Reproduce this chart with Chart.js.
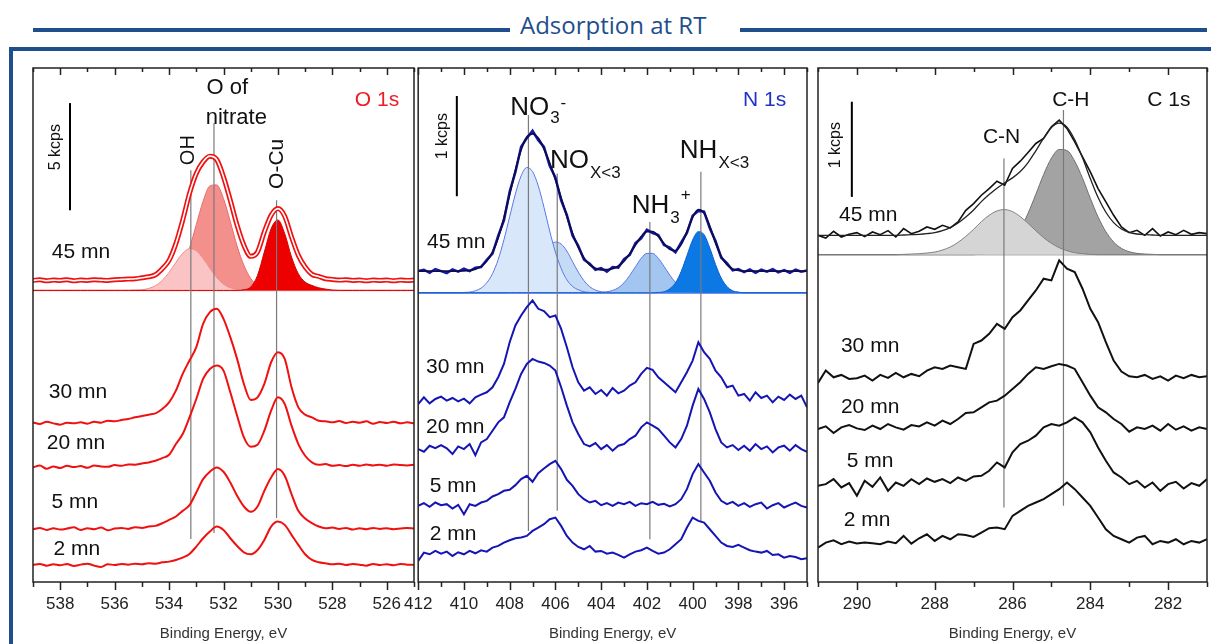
<!DOCTYPE html>
<html>
<head>
<meta charset="utf-8">
<script src="https://cdn.jsdelivr.net/npm/chart.js@4.4.1/dist/chart.umd.min.js"></script>
<style>
  body { margin: 0; width: 1211px; height: 644px; overflow: hidden; position: relative; background: #fff; }
  canvas { position: absolute; top: 0; }
  .bar { position: absolute; background: #1f4e8c; height: 4px; top: 28px; }
  #title { position: absolute; left: 520px; top: 10px; font: 24px "Open Sans", sans-serif; color: #1f4e8c; line-height: 30px; }
  #frame { position: absolute; left: 9px; top: 47px; width: 1210px; height: 600px; border-top: 4px solid #1f4e8c; border-left: 4px solid #1f4e8c; }
</style>
</head>
<body>
<div class="bar" style="left:33px;width:477px"></div>
<div id="title">Adsorption at RT</div>
<div class="bar" style="left:740px;width:467px"></div>
<div id="frame"></div>
<canvas id="o1s" width="410" height="644" style="left:20px"></canvas>
<canvas id="n1s" width="420" height="644" style="left:400px"></canvas>
<canvas id="c1s" width="403" height="644" style="left:808px"></canvas>
<script>
// intensities are in arbitrary units (1 unit = 1/3 px of the original plot), relative to each spectrum's baseline
// spectra are stacked with the offsets below

// ---------- O 1s ----------
const o1sE = [539, 538.75, 538.5, 538.25, 538, 537.75, 537.5, 537.25, 537, 536.75,
  536.5, 536.25, 536, 535.75, 535.5, 535.25, 535, 534.75, 534.5, 534.25,
  534, 533.75, 533.5, 533.25, 533, 532.75, 532.5, 532.25, 532, 531.75,
  531.5, 531.25, 531, 530.75, 530.5, 530.25, 530, 529.75, 529.5, 529.25,
  529, 528.75, 528.5, 528.25, 528, 527.75, 527.5, 527.25, 527, 526.75,
  526.5, 526.25, 526, 525.75, 525.5, 525.25, 525];
const o1s45 = [0,2,-1,1,0,2,-1,1,0,2, 1,0,2,3,4,5,8,11,17,35, 60,110,180,260,320,355,372,362,310,240,
  165,105,72,85,145,195,215,192,130,75, 40,18,12,5,3,1,2,0,1,-1, 1,0,1,-1,1,0,1];
const o1s30 = [0,-5,2,-3,-7,-1,-3,0,-4,2, -1,5,3,7,10,15,19,23,27,40, 60,95,145,185,225,295,330,340,310,255,
  190,115,67,75,115,180,210,190,105,45, 23,15,5,3,0,4,-2,2,-1,3, -4,1,-2,2,-3,0,-3];
const o1s20 = [0,6,-4,3,-2,5,1,4,-1,6, 3,2,7,5,9,8,12,15,20,28, 38,70,100,150,205,265,295,305,290,225,
  155,90,62,68,110,170,210,190,125,70, 35,15,8,10,5,7,4,8,5,9, 6,8,5,9,7,6,8];
const o1s5 = [0,4,-2,3,-1,2,6,-2,3,0, 5,-3,2,4,1,6,4,8,10,18, 28,38,55,72,110,150,172,185,172,140,
  100,68,52,68,115,155,180,160,105,55, 32,18,8,3,5,1,4,-1,3,0, 4,1,3,0,2,4,2];
const o1s2 = [0,3,-2,2,-1,3,-3,1,4,-2, -6,2,0,3,1,4,2,5,4,8, 10,15,22,33,55,80,100,115,105,80,
  57,38,32,45,75,115,130,120,90,60, 32,15,8,5,2,4,0,3,1,-2, 3,0,2,-1,3,1,0];
const o1sOffsets = [903, 478, 343, 158, 51];
const o1sCompBase = 873;
const o1sOH = [0,0,0,0,0,0,0,0,0,0, 0,0,0,0,0,1,2,6,14,30, 54,84,111,125,119,96,66,39,19,8,
  3,1,0,0,0,0,0,0,0,0, 0,0,0,0,0,0,0,0,0,0, 0,0,0,0,0,0,0];
const o1sNitrate = [0,0,0,0,0,0,0,0,0,0, 0,0,0,0,0,0,0,1,2,5, 13,32,69,126,197,267,313,316,275,206,
  133,75,36,15,5,2,1,0,0,0, 0,0,0,0,0,0,0,0,0,0, 0,0,0,0,0,0,0];
const o1sOCu = [0,0,0,0,0,0,0,0,0,0, 0,0,0,0,0,0,0,0,0,0, 0,0,0,0,0,0,0,0,0,0,
  0,2,10,45,115,185,211,170,100,50, 25,15,8,4,1,0,0,0,0,0, 0,0,0,0,0,0,0];
const o1sPeaks = [533.2, 532.35, 530.05];

// ---------- N 1s ----------
const n1sE = [412, 411.75, 411.5, 411.25, 411, 410.75, 410.5, 410.25, 410, 409.75,
  409.5, 409.25, 409, 408.75, 408.5, 408.25, 408, 407.75, 407.5, 407.25,
  407, 406.75, 406.5, 406.25, 406, 405.75, 405.5, 405.25, 405, 404.75,
  404.5, 404.25, 404, 403.75, 403.5, 403.25, 403, 402.75, 402.5, 402.25,
  402, 401.75, 401.5, 401.25, 401, 400.75, 400.5, 400.25, 400, 399.75,
  399.5, 399.25, 399, 398.75, 398.5, 398.25, 398, 397.75, 397.5, 397.25,
  397, 396.75, 396.5, 396.25, 396, 395.75, 395.5, 395.25, 395];
const n1s45 = [0,4,-5,6,0,-6,5,-2,7,0, 10,12,34,52,106,152,238,296,372,398, 420,392,372,315,280,212,168,106,76,34,
  22,4,9,-2,12,10,36,48,84,98, 124,114,108,78,70,56,86,114,166,180, 178,128,90,40,24,2,6,-3,5,-5,
  4,-2,6,-4,3,-5,4,-2,2];
const n1s30 = [-10,10,-8,5,12,0,8,-2,6,-8, 10,18,25,40,70,110,175,225,255,280, 300,275,268,250,255,215,160,100,55,30,
  40,20,32,15,38,22,30,45,55,80, 98,92,70,55,40,25,55,85,120,175, 145,125,90,70,40,45,15,20,0,25,
  8,15,-5,12,2,18,5,15,-20];
const n1s20 = [0,-8,10,3,12,2,-15,8,0,15, -18,20,30,55,80,95,140,180,225,255, 270,262,258,250,235,185,130,80,45,15,
  8,18,0,12,-5,10,15,30,40,65, 80,70,60,40,20,5,30,70,130,180, 150,110,60,20,5,12,-3,10,-5,15,
  0,8,-10,5,10,-5,12,0,-8];
const n1s5 = [0,8,-3,10,2,5,-8,3,-25,5, 0,10,15,28,35,45,48,62,80,90, 72,98,112,125,135,110,78,60,35,20,
  10,15,2,8,0,10,5,12,0,8, 5,12,3,6,-2,5,20,50,95,125, 100,75,40,15,5,12,0,8,-3,5,
  10,-8,2,8,-5,3,10,0,-5];
const n1s2 = [-20,5,0,10,2,8,-5,6,0,10, 3,12,8,20,25,35,42,48,50,55, 70,80,90,105,110,85,55,35,22,15,
  25,8,10,2,5,-2,-10,0,8,12, 20,10,2,5,15,30,45,80,110,100, 95,75,55,35,25,22,28,20,12,8,
  5,10,-2,0,-10,-5,-8,-15,-12];
const n1sOffsets = [931, 543, 398, 228, 83];
const n1sCompBase = 866;
const n1sNO3 = [0,0,0,0,0,0,0,0,1,2, 6,14,30,57,100,159,228,296,350,375, 363,320,256,185,122,73,39,19,9,3,
  1,0,0,0,0,0,0,0,0,0, 0,0,0,0,0,0,0,0,0,0, 0,0,0,0,0,0,0,0,0,0, 0,0,0,0,0,0,0,0,0];
const n1sNOx = [0,0,0,0,0,0,0,0,0,0, 0,0,0,0,0,0,2,5,13,26, 48,78,110,138,152,146,125,93,62,36,
  18,8,3,1,0,0,0,0,0,0, 0,0,0,0,0,0,0,0,0,0, 0,0,0,0,0,0,0,0,0,0, 0,0,0,0,0,0,0,0,0];
const n1sNH3 = [0,0,0,0,0,0,0,0,0,0, 0,0,0,0,0,0,0,0,0,0, 0,0,0,0,0,0,0,0,0,0,
  0,0,1,3,7,15,30,52,78,103, 118,118,103,79,53,31,16,7,3,1, 0,0,0,0,0,0,0,0,0,0, 0,0,0,0,0,0,0,0,0];
const n1sNHx = [0,0,0,0,0,0,0,0,0,0, 0,0,0,0,0,0,0,0,0,0, 0,0,0,0,0,0,0,0,0,0,
  0,0,0,0,0,0,0,0,0,0, 0,0,1,3,12,30,64,111,158,183, 174,134,85,44,19,6,2,0,0,0, 0,0,0,0,0,0,0,0,0];
const n1sPeaks = [407.18, 405.92, 401.87, 399.64];

// ---------- C 1s ----------
const c1sE = [291, 290.8, 290.6, 290.4, 290.2, 290, 289.8, 289.6, 289.4, 289.2,
  289, 288.8, 288.6, 288.4, 288.2, 288, 287.8, 287.6, 287.4, 287.2,
  287, 286.8, 286.6, 286.4, 286.2, 286, 285.8, 285.6, 285.4, 285.2,
  285, 284.8, 284.6, 284.4, 284.2, 284, 283.8, 283.6, 283.4, 283.2,
  283, 282.8, 282.6, 282.4, 282.2, 282, 281.8, 281.6, 281.4, 281.2, 281];
const c1s45 = [0,-8,12,-5,3,8,-4,10,2,14, -5,20,5,12,25,18,30,22,40,75, 95,120,140,162,150,200,222,248,275,290,
  325,345,320,280,235,190,140,100,60,25, 8,15,0,20,-2,10,2,15,3,8, 5];
const c1s30 = [-12,25,5,12,0,2,10,-5,12,3, 18,5,15,8,25,35,30,40,35,30, 105,115,135,165,150,185,205,235,265,300,
  295,355,330,320,270,210,170,110,55,22, 8,5,12,0,8,-5,10,2,12,5, 8];
const c1s20 = [0,8,-12,5,12,2,-3,10,0,15, 5,-2,12,8,20,10,25,15,30,48, 50,65,80,85,100,120,140,165,185,180,
  188,195,190,180,140,100,65,50,30,15, -8,5,0,10,-5,15,-2,8,-5,5, 0];
const c1s5 = [0,5,20,-5,8,-30,15,-3,25,-15, 10,0,20,5,22,12,20,8,25,15, 28,30,45,70,55,100,125,135,150,175,
  185,180,190,205,190,160,115,75,40,25, 5,15,-5,10,-15,5,12,-8,8,0, 20];
const c1s2 = [-10,5,12,0,8,2,5,3,0,8, 3,25,2,18,30,10,25,15,30,28, 22,35,48,50,45,85,100,115,125,135,
  150,165,185,165,140,115,80,45,25,15, 5,20,25,0,10,5,15,0,10,5, 15];
const c1sOffsets = [1038, 608, 458, 288, 113];
const c1sCompBase = 980;
const c1sCN = [0,0,0,0,0,0,0,0,0,0, 0,1,2,3,5,8,14,23,37,55, 76,99,118,131,135,129,114,94,72,51,
  34,21,12,6,3,1,0,0,0,0, 0,0,0,0,0,0,0,0,0,0, 0];
const c1sCH = [0,0,0,0,0,0,0,0,0,0, 0,0,0,0,0,0,0,0,0,0, 0,2,4,10,22,43,77,124,181,240,
  289,315,312,280,229,169,113,69,38,19, 9,4,2,1,0,0,0,0,0,0, 0];
const c1sPeaks = [286.22, 284.69];

const mins = ['45 mn', '30 mn', '20 mn', '5 mn', '2 mn'];

Chart.defaults.font.family = '"Liberation Sans", Arial, sans-serif';

const pts = (E, vals, off) => E.map((e, i) => ({x: e, y: off + vals[i]}));
const vline = (e, y0, y1, color, w, order) => ({
  data: [{x: e, y: y0}, {x: e, y: y1}], borderColor: color, borderWidth: w, pointRadius: 0, order: order
});
const comp = (E, vals, base, fillC, lineC, order) => ({
  data: pts(E, vals, base), borderColor: lineC, borderWidth: 1, backgroundColor: fillC,
  fill: {value: base}, cubicInterpolationMode: 'monotone', pointRadius: 0, order: order
});

// frame + tick marks (bottom outward, top inward, majors every 2 eV)
const framePlugin = {
  id: 'frame',
  afterDraw(chart) {
    const {ctx, chartArea: a, scales: {x}} = chart;
    ctx.save();
    ctx.strokeStyle = '#222';
    ctx.lineWidth = 1.5;
    ctx.strokeRect(a.left, a.top, a.right - a.left, a.bottom - a.top);
    x.ticks.forEach(t => {
      const px = Math.round(x.getPixelForValue(t.value)) + 0.5;
      const major = t.value % 2 === 0;
      ctx.beginPath();
      ctx.moveTo(px, a.bottom);
      ctx.lineTo(px, a.bottom + (major ? 8 : 5));
      ctx.moveTo(px, a.top);
      ctx.lineTo(px, a.top + (major ? 7 : 4));
      ctx.stroke();
    });
    ctx.restore();
  }
};

function textPlugin(items) {
  return {
    id: 'texts',
    afterDatasetsDraw(chart) {
      const {ctx, scales: {x, y}} = chart;
      ctx.save();
      items.forEach(it => {
        const px = x.getPixelForValue(it.x), py = y.getPixelForValue(it.y);
        ctx.fillStyle = it.color || '#111';
        if (it.parts) {
          let cx = px;
          ctx.textAlign = 'left';
          ctx.textBaseline = 'alphabetic';
          it.parts.forEach(p => {
            ctx.font = p.size + 'px "Liberation Sans", Arial, sans-serif';
            ctx.fillText(p.t, cx, py + (p.dy || 0));
            cx += ctx.measureText(p.t).width + 1;
          });
        } else {
          ctx.save();
          ctx.translate(px, py);
          if (it.rot) ctx.rotate(-Math.PI / 2);
          ctx.font = (it.size || 21) + 'px "Liberation Sans", Arial, sans-serif';
          ctx.textAlign = 'center';
          ctx.textBaseline = 'middle';
          ctx.fillText(it.t, 0, 0);
          ctx.restore();
        }
      });
      ctx.restore();
    }
  };
}

function makePanel(id, o) {
  return new Chart(document.getElementById(id), {
    type: 'line',
    data: {datasets: o.datasets},
    options: {
      responsive: false,
      animation: false,
      devicePixelRatio: 1,
      layout: {padding: {left: o.padL, right: o.padR, top: 68, bottom: 1.6}},
      plugins: {legend: {display: false}, tooltip: {enabled: false}},
      elements: {point: {radius: 0}, line: {tension: 0}},
      scales: {
        x: {
          type: 'linear', reverse: true, min: o.min, max: o.max,
          ticks: {
            stepSize: 1, autoSkip: false, maxRotation: 0, padding: 4, color: '#222',
            font: {size: 17},
            callback: v => (v % 2 === 0 ? String(v) : '')
          },
          grid: {display: true, color: 'rgba(0,0,0,0)', drawOnChartArea: false, drawTicks: true, tickLength: 8},
          border: {display: false},
          title: {display: true, text: 'Binding Energy, eV', color: '#333', font: {size: 15}, padding: {top: 6, bottom: 0}}
        },
        y: {display: false, min: 0, max: 1539}
      }
    },
    plugins: [framePlugin, textPlugin(o.texts)]
  });
}

// ---------- O 1s panel ----------
const o1sSets = [];
const o1sTraces = [o1s45, o1s30, o1s20, o1s5, o1s2];
o1sTraces.forEach((s, k) => {
  o1sSets.push({data: pts(o1sE, s, o1sOffsets[k]), borderColor: '#f01010', borderWidth: k === 0 ? 5 : 2,
    cubicInterpolationMode: 'monotone', order: 1});
});
o1sSets.push({data: pts(o1sE, o1s45, o1sOffsets[0]), borderColor: '#ffffff', borderWidth: 1.6,
  cubicInterpolationMode: 'monotone', order: 0});
o1sPeaks.forEach((e, k) => {
  const ext = [[129, 1233], [147, 1374], [192, 1143]][k];
  o1sSets.push(vline(e, ext[0], ext[1], '#7a7a7a', 1.2, 2));
});
o1sSets.push(vline(537.64, 1113, 1434, '#000', 2, 2));
o1sSets.push(comp(o1sE, o1sOCu, o1sCompBase, '#ec0000', '#d40000', 3));
o1sSets.push(comp(o1sE, o1sOH, o1sCompBase, '#fac4c4', '#f28b8b', 4));
o1sSets.push(comp(o1sE, o1sNitrate, o1sCompBase, '#f4908c', '#e86a6a', 5));
o1sSets.push({data: [{x: 539, y: o1sCompBase}, {x: 525, y: o1sCompBase}], borderColor: '#f5a3a3', borderWidth: 1.5, order: 6});

const o1sTexts = [
  {t: 'O of', x: 531.86, y: 1479, size: 22},
  {t: 'nitrate', x: 531.53, y: 1389, size: 22},
  {t: 'OH', x: 533.27, y: 1293, size: 20, rot: true},
  {t: 'O-Cu', x: 530.01, y: 1252, size: 21, rot: true},
  {t: 'O 1s', x: 526.36, y: 1443, size: 21, color: '#ee1c24'},
  {t: '5 kcps', x: 538.18, y: 1302, size: 16, rot: true},
  {t: mins[0], x: 537.24, y: 987},
  {t: mins[1], x: 537.35, y: 568},
  {t: mins[2], x: 537.42, y: 415},
  {t: mins[3], x: 537.46, y: 238},
  {t: mins[4], x: 537.39, y: 98}
];
makePanel('o1s', {datasets: o1sSets, texts: o1sTexts, min: 525, max: 539, padL: 13, padR: 16});

// ---------- N 1s panel ----------
const n1sSets = [];
const n1sTraces = [n1s45, n1s30, n1s20, n1s5, n1s2];
n1sTraces.forEach((s, k) => {
  n1sSets.push({data: pts(n1sE, s, n1sOffsets[k]), borderColor: k === 0 ? '#1818a8' : '#1515b5', borderWidth: k === 0 ? 2.5 : 2, order: 1});
});
const n1sFit = n1sE.map((e, i) => n1sNO3[i] + n1sNOx[i] + n1sNH3[i] + n1sNHx[i]);
n1sSets.push({data: pts(n1sE, n1sFit, n1sOffsets[0]), borderColor: '#0c0c50', borderWidth: 1.8, cubicInterpolationMode: 'monotone', order: 0});
n1sPeaks.forEach((e, k) => {
  const ext = [[153, 1398], [213, 1223], [128, 1078], [183, 1228]][k];
  n1sSets.push(vline(e, ext[0], ext[1], '#7a7a7a', 1.2, 2));
});
n1sSets.push(vline(410.31, 1155, 1455, '#000', 2, 2));
n1sSets.push(comp(n1sE, n1sNHx, n1sCompBase, '#0b78e3', '#0b5fd0', 3));
n1sSets.push(comp(n1sE, n1sNH3, n1sCompBase, '#a3c6f0', '#5a78e6', 4));
n1sSets.push(comp(n1sE, n1sNO3, n1sCompBase, '#d8e7f9', '#5a78e6', 5));
n1sSets.push(comp(n1sE, n1sNOx, n1sCompBase, '#c5daf5', '#5a78e6', 6));
n1sSets.push({data: [{x: 412, y: n1sCompBase}, {x: 395, y: n1sCompBase}], borderColor: '#3a5ae0', borderWidth: 1.5, order: 7});

const n1sTexts = [
  {parts: [{t: 'NO', size: 26}, {t: '3', size: 17, dy: 8}, {t: '-', size: 17, dy: -7}], x: 407.98, y: 1398},
  {parts: [{t: 'NO', size: 26}, {t: 'X<3', size: 17, dy: 10}], x: 406.24, y: 1239},
  {parts: [{t: 'NH', size: 26}, {t: '3', size: 17, dy: 10}, {t: '+', size: 17, dy: -13}], x: 402.66, y: 1104},
  {parts: [{t: 'NH', size: 26}, {t: 'X<3', size: 17, dy: 10}], x: 400.56, y: 1269},
  {t: 'N 1s', x: 396.85, y: 1443, size: 21, color: '#1f32c8'},
  {t: '1 kcps', x: 410.93, y: 1335, size: 16, rot: true},
  {t: mins[0], x: 410.34, y: 1017},
  {t: mins[1], x: 410.38, y: 643},
  {t: mins[2], x: 410.38, y: 463},
  {t: mins[3], x: 410.47, y: 288},
  {t: mins[4], x: 410.47, y: 143}
];
makePanel('n1s', {datasets: n1sSets, texts: n1sTexts, min: 395, max: 412, padL: 18, padR: 13});

// ---------- C 1s panel ----------
const c1sSets = [];
const c1sTraces = [c1s45, c1s30, c1s20, c1s5, c1s2];
c1sTraces.forEach((s, k) => {
  c1sSets.push({data: pts(c1sE, s, c1sOffsets[k]), borderColor: '#111', borderWidth: k === 0 ? 1.6 : 2, order: 1});
});
const c1sFit = c1sE.map((e, i) => c1sCN[i] + c1sCH[i]);
c1sSets.push({data: pts(c1sE, c1sFit, c1sOffsets[0]), borderColor: '#222', borderWidth: 1.3, cubicInterpolationMode: 'monotone', order: 0});
c1sPeaks.forEach((e, k) => {
  const ext = [[223, 1268], [228, 1413]][k];
  c1sSets.push(vline(e, ext[0], ext[1], '#7a7a7a', 1.2, 2));
});
c1sSets.push(vline(290.13, 1153, 1438, '#000', 2, 2));
c1sSets.push(comp(c1sE, c1sCN, c1sCompBase, '#d5d5d5', '#808080', 3));
c1sSets.push(comp(c1sE, c1sCH, c1sCompBase, '#a3a3a3', '#707070', 4));
c1sSets.push({data: [{x: 291, y: c1sCompBase}, {x: 281, y: c1sCompBase}], borderColor: '#333', borderWidth: 1, order: 5});

const c1sTexts = [
  {t: 'C-H', x: 284.5, y: 1443, size: 21},
  {t: 'C-N', x: 286.28, y: 1332, size: 21},
  {t: 'C 1s', x: 281.98, y: 1443, size: 21},
  {t: '1 kcps', x: 290.55, y: 1308, size: 16, rot: true},
  {t: mins[0], x: 289.71, y: 1098},
  {t: mins[1], x: 289.66, y: 705},
  {t: mins[2], x: 289.66, y: 523},
  {t: mins[3], x: 289.66, y: 363},
  {t: mins[4], x: 289.74, y: 185}
];
makePanel('c1s', {datasets: c1sSets, texts: c1sTexts, min: 281, max: 291, padL: 10, padR: 4});
</script>
</body>
</html>
